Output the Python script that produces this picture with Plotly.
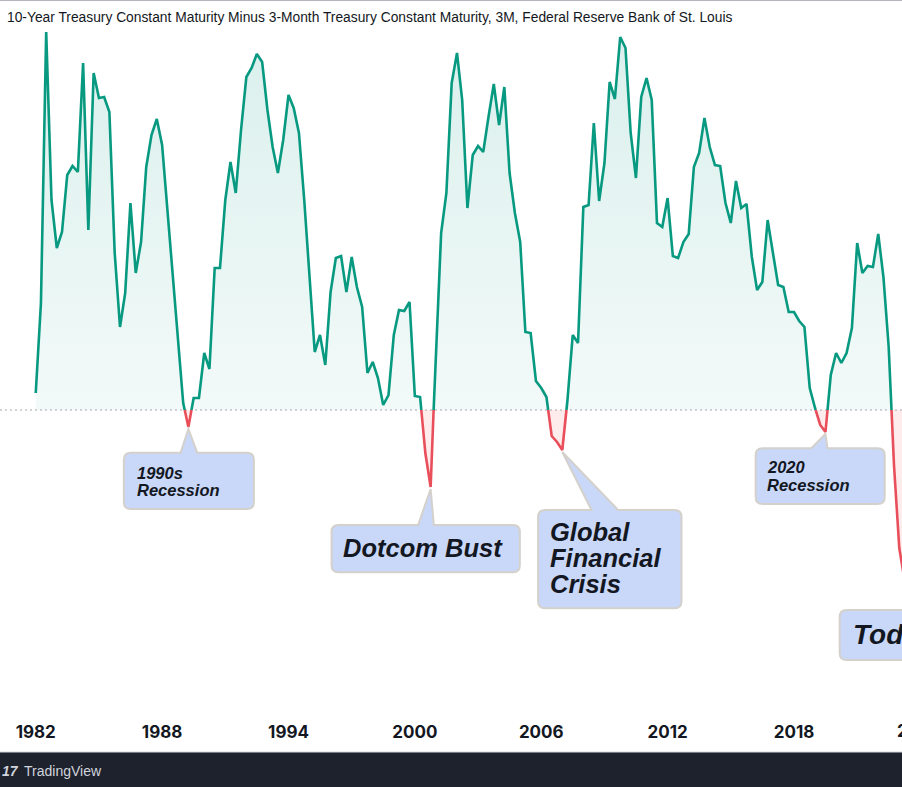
import pandas as pd
import plotly.graph_objects as go

# ---------------- data (quarterly, 10Y minus 3M spread, %) ----------------
start_quarter = "1982-01-01"
spread = [
    0.17, 1.07, 3.78, 2.10, 1.62, 1.78, 2.35, 2.44, 2.38, 3.47,
    1.80, 3.37, 3.12, 3.13, 2.98, 1.57, 0.83, 1.17, 2.07, 1.37,
    1.68, 2.43, 2.75, 2.91, 2.65, 2.00, 1.30, 0.70, 0.07, -0.17,
    0.12, 0.12, 0.57, 0.41, 1.42, 1.42, 2.10, 2.48, 2.17, 2.80,
    3.33, 3.42, 3.56, 3.48, 3.00, 2.63, 2.37, 2.70, 3.15, 3.02,
    2.77, 2.10, 1.37, 0.58, 0.75, 0.45, 1.18, 1.52, 1.54, 1.18,
    1.53, 1.23, 1.03, 0.37, 0.48, 0.32, 0.05, 0.15, 0.75, 1.00,
    0.99, 1.08, 0.14, 0.13, -0.43, -0.77, 0.60, 1.77, 2.17, 3.27,
    3.57, 3.10, 2.02, 2.55, 2.64, 2.58, 2.93, 3.26, 2.85, 3.23,
    2.37, 1.97, 1.68, 0.78, 0.77, 0.29, 0.22, 0.13, -0.26, -0.32,
    -0.40, 0.10, 0.75, 0.67, 2.03, 2.05, 2.87, 2.09, 2.47, 3.28,
    3.11, 3.73, 3.62, 2.77, 2.32, 3.13, 3.32, 3.10, 1.87, 1.83,
    2.12, 1.54, 1.52, 1.68, 1.76, 2.43, 2.57, 2.92, 2.63, 2.45,
    2.44, 2.07, 1.87, 2.29, 2.02, 2.06, 1.53, 1.20, 1.28, 1.90,
    1.57, 1.25, 1.23, 0.98, 0.98, 0.89, 0.83, 0.22, 0.02, -0.15,
    -0.22, 0.35, 0.57, 0.47, 0.57, 0.82, 1.67, 1.37, 1.44, 1.43,
    1.76, 1.33, 0.63, -0.55, -1.38, -1.70,
]
tick_years = ["1982", "1988", "1994", "2000", "2006", "2012", "2018"]
title_text = ("10-Year Treasury Constant Maturity Minus 3-Month Treasury Constant "
              "Maturity, 3M, Federal Reserve Bank of St. Louis")
# callouts: label lines, quarter they point at
callout_labels = [
    ["1990s", "Recession"],
    ["Dotcom Bust"],
    ["Global", "Financial", "Crisis"],
    ["2020", "Recession"],
    ["Today"],
]
callout_quarters = ["1989-04-01", "2000-10-01", "2007-01-01", "2019-07-01", "2023-01-01"]

# ---------------- build series split at zero ----------------
dates = pd.date_range(start_quarter, periods=len(spread), freq="QS")
xs, ys = [], []
for k in range(len(spread)):
    if k > 0:
        a, b = spread[k - 1], spread[k]
        if (a > 0 > b) or (a < 0 < b):
            t = a / (a - b)
            xs.append(dates[k - 1] + (dates[k] - dates[k - 1]) * t)
            ys.append(0.0)
    xs.append(dates[k])
    ys.append(spread[k])

green_y = [y if y >= 0 else None for y in ys]
red_y = [y if y <= 0 else None for y in ys]

GREEN = "#089981"
RED = "#e84f5b"
INK = "#131722"

fig = go.Figure()
fig.add_trace(go.Scatter(
    x=xs, y=green_y, mode="lines", connectgaps=False,
    line=dict(color=GREEN, width=2.6),
    fill="tozeroy",
    fillgradient=dict(type="vertical", start=0, stop=3.8,
                      colorscale=[[0, "rgba(8,153,129,0.05)"], [1, "rgba(8,153,129,0.15)"]]),
    hoverinfo="skip", showlegend=False,
))
fig.add_trace(go.Scatter(
    x=xs, y=red_y, mode="lines", connectgaps=False,
    line=dict(color=RED, width=2.6),
    fill="tozeroy", fillcolor="rgba(242,54,69,0.10)",
    hoverinfo="skip", showlegend=False,
))

shapes = []
annotations = []

# zero line
shapes.append(dict(type="line", xref="paper", x0=0, x1=1, yref="y", y0=0, y1=0,
                   line=dict(color="#a3a6af", width=1, dash="2px,3px"), layer="below"))

# ---------------- callouts (pixel geometry relative to the pointed quarter) ----------------
callout_geom = [
    dict(box=(-64.5, 65.5, 25.7, 82), ptr=(-7.8, 8.8), tx=-52.5, base=[52, 68.7], size=16.5),
    dict(box=(-99.1, 89.2, 38, 85.3), ptr=(-12.5, 3.2), tx=-88.5, base=[69.7], size=25.5),
    dict(box=(-24.2, 119.2, 60, 158.3), ptr=(29.2, 55.8), tx=-13.2, base=[90.7, 117.3, 143.3], size=25.5),
    dict(box=(-69.8, 59.2, 16.3, 72), ptr=(-14.1, 1.9), tx=-59.1, base=[41.3, 59], size=16.5),
    dict(box=(-59.6, 90, 62, 112), ptr=None, tx=-46.9, base=[97], size=28),
]


def callout_path(box, ptr, r=7):
    L, R, T, B = box

    def P(x, y):
        return f"{x:.1f},{-y:.1f}"
    d = f"M {P(L + r, T)} "
    if ptr is not None:
        d += f"L {P(ptr[0], T)} L {P(0, 2)} L {P(ptr[1], T)} "
    d += f"L {P(R - r, T)} Q {P(R, T)} {P(R, T + r)} "
    d += f"L {P(R, B - r)} Q {P(R, B)} {P(R - r, B)} "
    d += f"L {P(L + r, B)} Q {P(L, B)} {P(L, B - r)} "
    d += f"L {P(L, T + r)} Q {P(L, T)} {P(L + r, T)} Z"
    return d


for labels, q, g in zip(callout_labels, callout_quarters, callout_geom):
    k = list(dates).index(pd.Timestamp(q))
    ax_x, ax_y = dates[k], spread[k]
    shapes.append(dict(
        type="path", xref="x", yref="y", xsizemode="pixel", ysizemode="pixel",
        xanchor=ax_x, yanchor=ax_y, path=callout_path(g["box"], g["ptr"]),
        fillcolor="#c9d8f9", line=dict(color="#d4d1cc", width=2), layer="above",
    ))
    for line_txt, bl in zip(labels, g["base"]):
        s = g["size"]
        annotations.append(dict(
            x=ax_x, y=ax_y, xref="x", yref="y", showarrow=False,
            xanchor="left", yanchor="middle", borderpad=0,
            xshift=g["tx"], yshift=-(bl - 0.36 * s),
            text=f"<b><i>{line_txt}</i></b>",
            font=dict(family="Liberation Sans", size=s, color=INK),
        ))

# ---------------- chrome ----------------
PLOT_H = 715
annotations.append(dict(
    x=5 / 902, y=(PLOT_H - 17) / PLOT_H, xref="paper", yref="paper", showarrow=False,
    xanchor="left", yanchor="middle", text=title_text,
    font=dict(family="Liberation Sans", size=13.8, color=INK),
))
annotations.append(dict(
    x=919 / 902, y=(PLOT_H - 731) / PLOT_H, xref="paper", yref="paper", showarrow=False,
    xanchor="center", yanchor="middle", text="2024",
    font=dict(family="Inter", size=17, color=INK, weight="bold"),
))
shapes.append(dict(type="line", xref="paper", yref="paper", x0=0, x1=1, y0=1, y1=1,
                   line=dict(color="#b2b5be", width=2)))
shapes.append(dict(type="rect", xref="paper", yref="paper", x0=-0.01, x1=1.01,
                   y0=(PLOT_H - 790) / PLOT_H, y1=(PLOT_H - 752) / PLOT_H,
                   fillcolor="#1e222d", line=dict(width=0)))
shapes.append(dict(type="line", xref="paper", yref="paper", x0=0, x1=1,
                   y0=(PLOT_H - 752) / PLOT_H, y1=(PLOT_H - 752) / PLOT_H,
                   line=dict(color="#d6d8de", width=1)))
annotations.append(dict(
    x=22 / 902, y=(PLOT_H - 771) / PLOT_H, xref="paper", yref="paper", showarrow=False,
    xanchor="left", yanchor="middle", text="TradingView",
    font=dict(family="Liberation Sans", size=14, color="#d1d4dc"),
))
annotations.append(dict(
    x=0, y=(PLOT_H - 771) / PLOT_H, xref="paper", yref="paper", showarrow=False,
    xanchor="left", yanchor="middle", text="<b><i>17</i></b>",
    font=dict(family="Liberation Sans", size=14, color="#d1d4dc"),
))

fig.update_layout(
    width=902, height=787,
    margin=dict(l=0, r=0, t=0, b=787 - PLOT_H),
    paper_bgcolor="white", plot_bgcolor="white",
    shapes=shapes, annotations=annotations,
    xaxis=dict(
        type="date", range=["1980-04-21", "2023-02-17"],
        tickvals=[f"{y}-01-01" for y in tick_years], ticktext=tick_years,
        showgrid=False, zeroline=False, showline=False,
        ticks="outside", ticklen=2, tickcolor="rgba(0,0,0,0)",
        tickfont=dict(family="Inter", size=17, color=INK, weight="bold"),
        fixedrange=True,
    ),
    yaxis=dict(range=[-3.05, 4.10], visible=False, fixedrange=True),
)

fig.write_html("out.html", config={"displayModeBar": False},
               post_script="document.body.style.margin='0';document.body.style.overflow='hidden';")
